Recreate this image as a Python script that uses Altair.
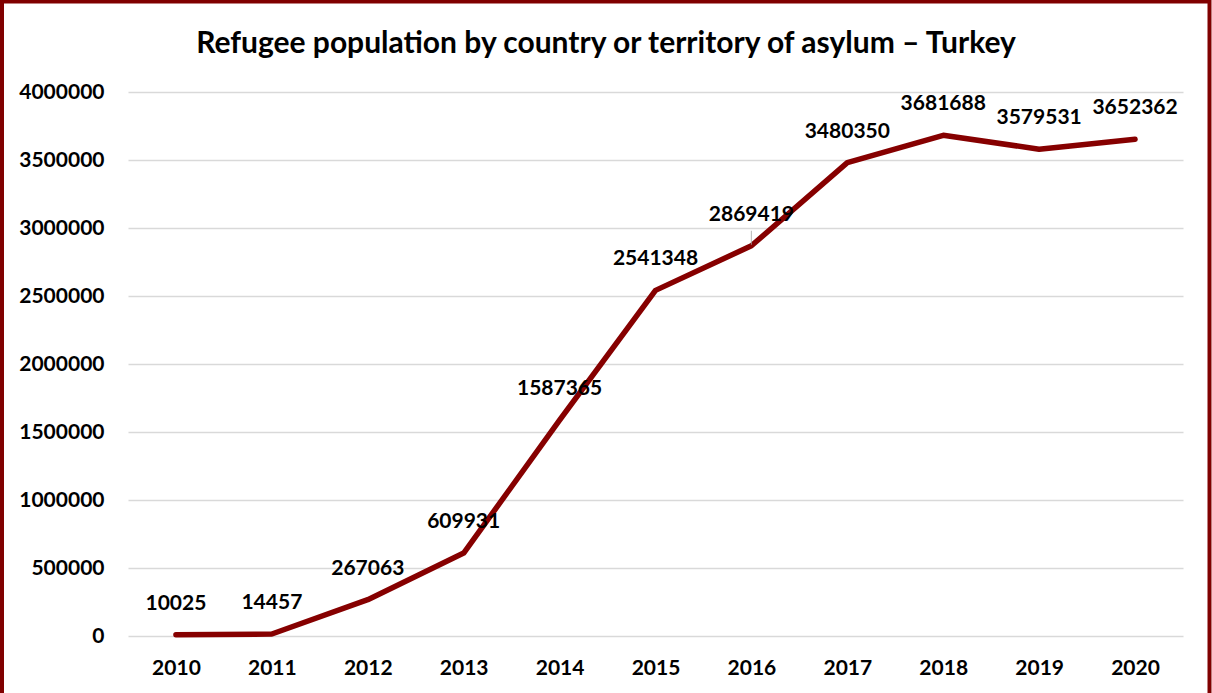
import altair as alt
import pandas as pd

years = [str(y) for y in range(2010, 2021)]
values = [10025, 14457, 267063, 609931, 1587365, 2541348, 2869419,
          3480350, 3681688, 3579531, 3652362]
y_ticks = list(range(0, 4000001, 500000))
title_text = "Refugee population by country or territory of asylum \u2013 Turkey"

df = pd.DataFrame({"year": years, "value": values})
leader_df = df[df["year"] == "2016"]

FONT = "Lato"
RED = "#860000"
FS = 21

x_enc = alt.X("year:N", sort=years,
              scale=alt.Scale(type="point", padding=0.5),
              axis=alt.Axis(title=None, labelAngle=0, ticks=False, domain=False,
                            labelFont=FONT, labelFontSize=FS, labelFontWeight="bold",
                            labelColor="#000000", labelPadding=21))
y_enc = alt.Y("value:Q",
              scale=alt.Scale(domain=[0, 4000000], nice=False),
              axis=alt.Axis(title=None, values=y_ticks, format="d", ticks=False, domain=False,
                            labelFont=FONT, labelFontSize=FS, labelFontWeight="bold",
                            labelColor="#000000", labelPadding=24,
                            gridColor="#d9d9d9", gridWidth=1.5))

base = alt.Chart(df)

line = base.mark_line(color=RED, strokeWidth=5.5, strokeCap="round", strokeJoin="round").encode(
    x=x_enc, y=y_enc)

labels = base.mark_text(dy=-31, font=FONT, fontSize=FS, fontWeight="bold", color="#000000").encode(
    x="year:N", y="value:Q", text=alt.Text("value:Q", format="d"))

leader = alt.Chart(leader_df).mark_tick(orient="vertical", size=14, thickness=1.2,
                                        color="#a6a6a6", yOffset=-8).encode(
    x="year:N", y="value:Q")

one = pd.DataFrame({"t": [title_text]})

border = alt.Chart(one).mark_rect(
    fill=None, stroke="#800000", strokeWidth=4).encode(
    x=alt.value(-126), x2=alt.value(1081.5), y=alt.value(-90.5), y2=alt.value(640))

title = alt.Chart(one).mark_text(
    font=FONT, fontSize=30, fontWeight="bold", color="#000000",
    align="center", baseline="alphabetic").encode(
    text="t:N", x=alt.value(478), y=alt.value(-39))

chart = alt.layer(border, line, leader, labels, title).properties(
    width=1055, height=544,
    padding={"left": 128, "top": 92, "right": 29, "bottom": 57},
    autosize=alt.AutoSizeParams(type="none"),
    background="white",
).configure_view(stroke=None)

chart.save("out.html", embed_options={"renderer": "svg", "actions": False})
